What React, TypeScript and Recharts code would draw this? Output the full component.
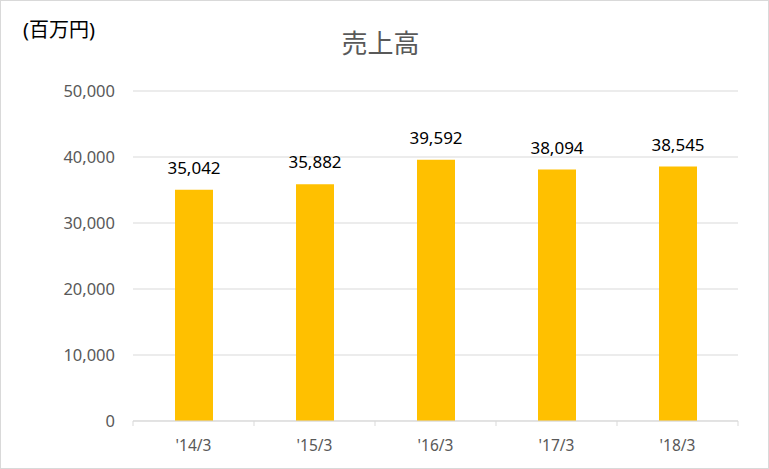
import { BarChart, Bar, XAxis, YAxis, CartesianGrid, LabelList } from 'recharts'

const periods = ["'14/3", "'15/3", "'16/3", "'17/3", "'18/3"]
const sales = [35042, 35882, 39592, 38094, 38545]
const yTicks = [0, 10000, 20000, 30000, 40000, 50000]

const data = periods.map((period, i) => ({ period, sales: sales[i] }))

const FONT = '"Noto Sans", "Noto Sans CJK JP", sans-serif'
const AXIS_Y = 421

// eslint-disable-next-line @typescript-eslint/no-explicit-any
function XTick({ x, y, payload, index, width, visibleTicksCount }: any) {
  const band = width / visibleTicksCount
  return (
    <g>
      <line x1={x - band / 2} x2={x - band / 2} y1={AXIS_Y} y2={AXIS_Y + 5} stroke="#d9d9d9" />
      {index === visibleTicksCount - 1 && (
        <line x1={x + band / 2} x2={x + band / 2} y1={AXIS_Y} y2={AXIS_Y + 5} stroke="#d9d9d9" />
      )}
      <text x={x} y={y} dy="0.71em" textAnchor="middle" fill="#595959" fontSize={15.5} fontFamily={FONT}>
        {payload.value}
      </text>
    </g>
  )
}

export default function App() {
  return (
    <div style={{
      position: 'absolute',
      left: 0,
      top: 0,
      width: 769,
      height: 469,
      background: '#fff',
      fontFamily: FONT,
    }}>
      <div style={{
        position: 'absolute', left: 0, top: 0, width: 767, height: 467,
        border: '1px solid #d9d9d9', boxSizing: 'content-box',
      }} />
      <div style={{ position: 'absolute', left: 23, top: 15, fontSize: 20, color: '#000', lineHeight: '30px' }}>(百万円)</div>
      <div style={{
        position: 'absolute', left: 0, width: 761, top: 23, textAlign: 'center',
        fontSize: 26, color: '#595959',
      }}>売上高</div>
      <BarChart
        width={769}
        height={469}
        data={data}
        margin={{ top: 91, right: 31, bottom: 18, left: 0 }}
        style={{ position: 'absolute', left: 0, top: 0 }}
      >
        <CartesianGrid stroke="#d9d9d9" vertical={false} />
        <XAxis
          dataKey="period"
          height={30}
          axisLine={{ stroke: '#d9d9d9' }}
          tickLine={false}
          tickMargin={13}
          interval={0}
          tick={<XTick />}
        />
        <YAxis
          width={133}
          domain={[0, 50000]}
          ticks={yTicks}
          axisLine={false}
          tickLine={false}
          tickMargin={12}
          tickFormatter={v => v.toLocaleString('en-US')}
          tick={{ fontSize: 16.5, fill: '#595959', fontFamily: FONT }}
        />
        <Bar dataKey="sales" fill="#ffc000" barSize={38} isAnimationActive={false}>
          <LabelList
            dataKey="sales"
            position="top"
            offset={16}
            formatter={(v: number) => v.toLocaleString('en-US')}
            style={{ fontSize: 17, fill: '#000', fontFamily: FONT }}
          />
        </Bar>
      </BarChart>
    </div>
  )
}
